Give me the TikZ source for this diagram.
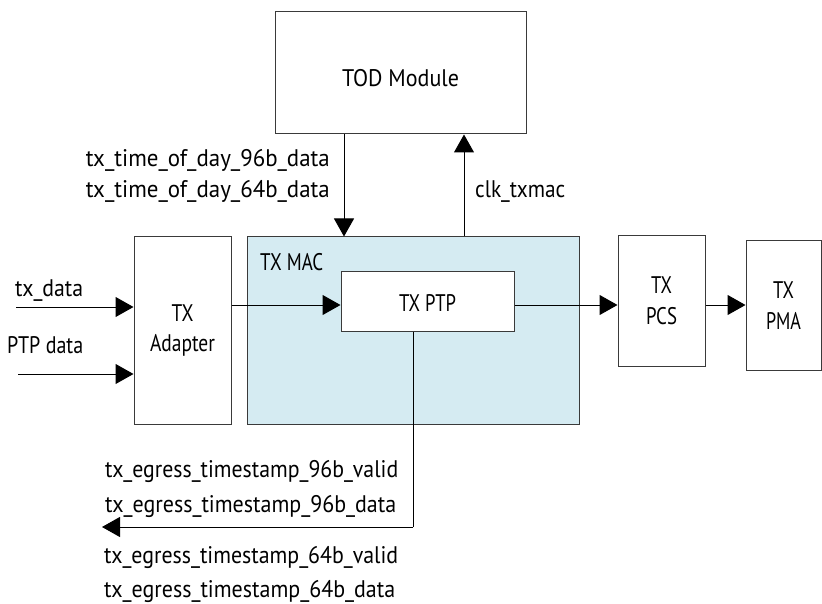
\documentclass[tikz,border=0pt]{standalone}
\usepackage{fontspec}
\usepackage{graphicx}
\setmainfont{PT Sans}
\usetikzlibrary{arrows.meta}
\definecolor{macblue}{HTML}{D5EBF2}
\definecolor{boxline}{HTML}{3A3A3A}
\newcommand{\fw}[2]{\resizebox{#1}{\height}{#2}}
\tikzset{
  blk/.style={draw=boxline, line width=1pt, inner sep=0pt, align=center},
  lbl/.style={inner sep=0pt},
  sig/.style={line width=1pt, -{Triangle[length=18pt,width=20pt]}},
  wire/.style={line width=1pt}
}
\begin{document}
\begin{tikzpicture}[x=1pt,y=-1pt, font=\fontsize{24}{30}\selectfont]
\useasboundingbox (0,0) rectangle (822,604);
% boxes
\node[blk, minimum width=251pt, minimum height=122pt, text height=28pt, text depth=0pt] (tod) at (400.5,73) {\fw{117pt}{TOD Module}};
\node[blk, fill=macblue, minimum width=332pt, minimum height=187pt] (mac) at (413,330.5) {};
\node[lbl, anchor=base west] (maclbl) at (260,270) {\fw{63pt}{TX MAC}};
\node[blk, fill=white, minimum width=173pt, minimum height=60pt, text height=20pt, text depth=0pt] (ptp) at (427.5,301) {\fw{57pt}{TX PTP}};
\node[blk, minimum width=97pt, minimum height=187pt] (adp) at (182.5,330.5) {\fw{22pt}{TX}\\\fw{65pt}{Adapter}};
\node[blk, minimum width=87pt, minimum height=130pt, font=\fontsize{24}{31}\selectfont] (pcs) at (661.5,301) {\fw{21pt}{TX}\\\fw{31pt}{PCS}};
\node[blk, minimum width=75pt, minimum height=129pt, font=\fontsize{24}{31}\selectfont] (pma) at (783.5,305.5) {\fw{21pt}{TX}\\\fw{35pt}{PMA}};
% inputs
\coordinate (txin) at (16,307);
\coordinate (ptpin) at (18,374);
\node[lbl, anchor=base west] (txlbl) at (15,297) {\fw{68pt}{tx\_data}};
\node[lbl, anchor=base west] (ptplbl) at (7,353) {\fw{76pt}{PTP data}};
\draw[sig] (txin) -- (txin -| adp.west);
\draw[sig] (ptpin) -- (ptpin -| adp.west);
% data path
\coordinate (a1) at (adp.east |- 0,305);
\draw[sig] (a1) -- (a1 -| ptp.west);
\coordinate (p1) at (ptp.east |- 0,305);
\draw[sig] (p1) -- (p1 -| pcs.west);
\coordinate (c1) at (pcs.east |- 0,305);
\draw[sig] (c1) -- (c1 -| pma.west);
% TOD connections
\coordinate (t1) at (344,0);
\draw[sig] (t1 |- tod.south) -- (t1 |- mac.north);
\coordinate (t2) at (464,0);
\draw[sig] (t2 |- mac.north) -- (t2 |- tod.south);
\node[lbl, anchor=base east] (l96) at (330,167) {\fw{244pt}{tx\_time\_of\_day\_96b\_data}};
\node[lbl, anchor=base east] (l64) at (330,198) {\fw{244pt}{tx\_time\_of\_day\_64b\_data}};
\node[lbl, anchor=base west] (clk) at (475,198) {\fw{90pt}{clk\_txmac}};
% egress
\coordinate (e1) at (413,527);
\coordinate (e2) at (102,527);
\draw[wire] (ptp.south -| e1) -- (e1);
\draw[sig] (e1) -- (e2);
\node[lbl, anchor=base west] (ev96) at (105,477) {\fw{293pt}{tx\_egress\_timestamp\_96b\_valid}};
\node[lbl, anchor=base west] (ed96) at (105,512) {\fw{291pt}{tx\_egress\_timestamp\_96b\_data}};
\node[lbl, anchor=base west] (ev64) at (104,563) {\fw{294pt}{tx\_egress\_timestamp\_64b\_valid}};
\node[lbl, anchor=base west] (ed64) at (104,597) {\fw{291pt}{tx\_egress\_timestamp\_64b\_data}};
\end{tikzpicture}
\end{document}
